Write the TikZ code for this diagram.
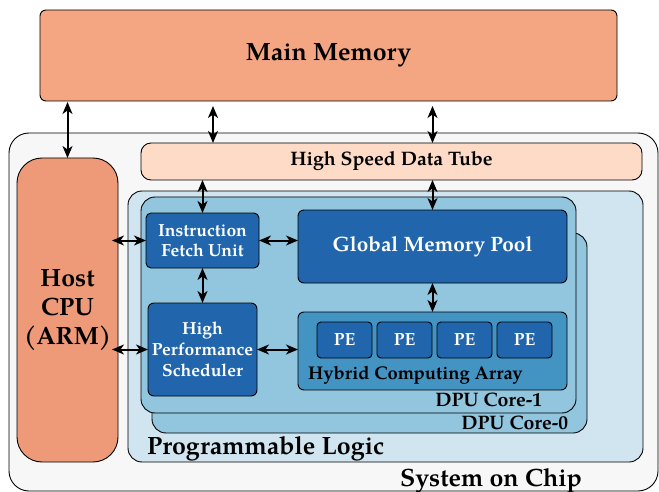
\documentclass[tikz,border=0pt]{standalone}
\usepackage{fontspec}
\setmainfont{TeX Gyre Pagella}
\usetikzlibrary{arrows.meta,calc}
\definecolor{mmcol}{HTML}{F4A582}
\definecolor{cpucol}{HTML}{EE9A78}
\definecolor{tubecol}{HTML}{FDDBC7}
\definecolor{soccol}{HTML}{F7F7F7}
\definecolor{plcol}{HTML}{D1E5F0}
\definecolor{corecol}{HTML}{92C5DE}
\definecolor{hcacol}{HTML}{4393C3}
\definecolor{dbcol}{HTML}{2166AC}
\tikzset{
  blk/.style={draw=black, line width=0.9pt, inner sep=0pt, outer sep=0pt, anchor=north west, align=center},
  darkbox/.style={blk, fill=dbcol, text=white, font=\bfseries},
  arr/.style={line width=2pt, {Stealth[length=12pt,width=10pt,inset=3.5pt]}-{Stealth[length=12pt,width=10pt,inset=3.5pt]}},
  lbl/.style={inner sep=0pt, outer sep=0pt}
}
\begin{document}
\begin{tikzpicture}[x=1pt,y=-1pt]
\useasboundingbox (0,0) rectangle (659,492);
% main memory
\node[blk, fill=mmcol, rounded corners=6pt, minimum width=577pt, minimum height=91pt, font=\fontsize{25}{29}\selectfont\bfseries] (mm) at (40,10) {Main Memory};
% system on chip
\node[blk, fill=soccol, rounded corners=20pt, minimum width=649pt, minimum height=358pt] (soc) at (9,133) {};
\node[lbl, font=\fontsize{25}{29}\selectfont\bfseries, anchor=base west] (soclbl) at (400,486) {System on Chip};
% host cpu
\node[blk, fill=cpucol, rounded corners=25pt, minimum width=101pt, minimum height=304pt, font=\fontsize{25}{29}\selectfont\bfseries] (cpu) at (17,158) {Host\\CPU\\(ARM)};
% tube
\node[blk, fill=tubecol, rounded corners=10pt, minimum width=501pt, minimum height=37pt, font=\fontsize{19.5}{22}\selectfont\bfseries] (tube) at (141,143) {High Speed Data Tube};
% programmable logic
\node[blk, fill=plcol, rounded corners=14pt, minimum width=515pt, minimum height=271pt] (pl) at (128,191) {};
\node[lbl, font=\fontsize{25}{29}\selectfont\bfseries, anchor=base west] (pllbl) at (147,454) {Programmable Logic};
% cores
\node[blk, fill=corecol, rounded corners=14pt, minimum width=435pt, minimum height=200pt] (core0) at (152,233) {};
\node[lbl, font=\fontsize{19.5}{22}\selectfont\bfseries, anchor=base east] (c0lbl) at (568,429) {DPU Core-0};
\node[blk, fill=corecol, rounded corners=14pt, minimum width=435pt, minimum height=216pt] (core1) at (141,197) {};
\node[lbl, font=\fontsize{19.5}{22}\selectfont\bfseries, anchor=base east] (c1lbl) at (542,406) {DPU Core-1};
% inner units
\node[darkbox, rounded corners=5pt, minimum width=113pt, minimum height=55pt, font=\fontsize{17.5}{20}\selectfont\bfseries] (ifu) at (146,213) {Instruction\\Fetch Unit};
\node[darkbox, rounded corners=6pt, minimum width=109pt, minimum height=93pt, font=\fontsize{17.5}{21}\selectfont\bfseries] (hps) at (148,303) {High\\Performance\\Scheduler};
\node[darkbox, rounded corners=6pt, minimum width=269pt, minimum height=73pt, font=\fontsize{20.8}{24}\selectfont\bfseries] (gmp) at (298,210) {Global Memory Pool};
\node[blk, fill=hcacol, rounded corners=6pt, minimum width=269pt, minimum height=78pt] (hca) at (298,312) {};
\node[lbl, font=\fontsize{18.4}{21}\selectfont\bfseries, anchor=base west] (hcalbl) at (308,379) {Hybrid Computing Array};
\foreach \i/\x in {1/317,2/377,3/437,4/497}{
  \node[darkbox, rounded corners=4pt, minimum width=55pt, minimum height=36pt, font=\fontsize{17.5}{20}\selectfont\bfseries] (pe\i) at (\x,322) {PE};
}
% arrows
\coordinate (xa) at (213,0);
\draw[arr, shorten <=1pt] (mm.south -| cpu.north) -- (cpu.north);
\draw[arr, shorten <=5pt] (mm.south -| xa) -- (tube.north -| xa);
\draw[arr, shorten <=5pt] (mm.south -| gmp.north) -- (tube.north -| gmp.north);
\draw[arr] (tube.south -| ifu.north) -- (ifu.north);
\draw[arr] (tube.south -| gmp.north) -- (gmp.north);
\draw[arr] (ifu.south) -- (hps.north);
\draw[arr] (gmp.south) -- (hca.north);
\draw[arr, shorten <=-6pt] (cpu.east |- ifu.west) -- (ifu.west);
\draw[arr, shorten <=-6pt] (cpu.east |- hps.west) -- (hps.west);
\draw[arr] (ifu.east) -- (ifu.east -| gmp.west);
\draw[arr] (hps.east) -- (hps.east -| hca.west);
\end{tikzpicture}
\end{document}
